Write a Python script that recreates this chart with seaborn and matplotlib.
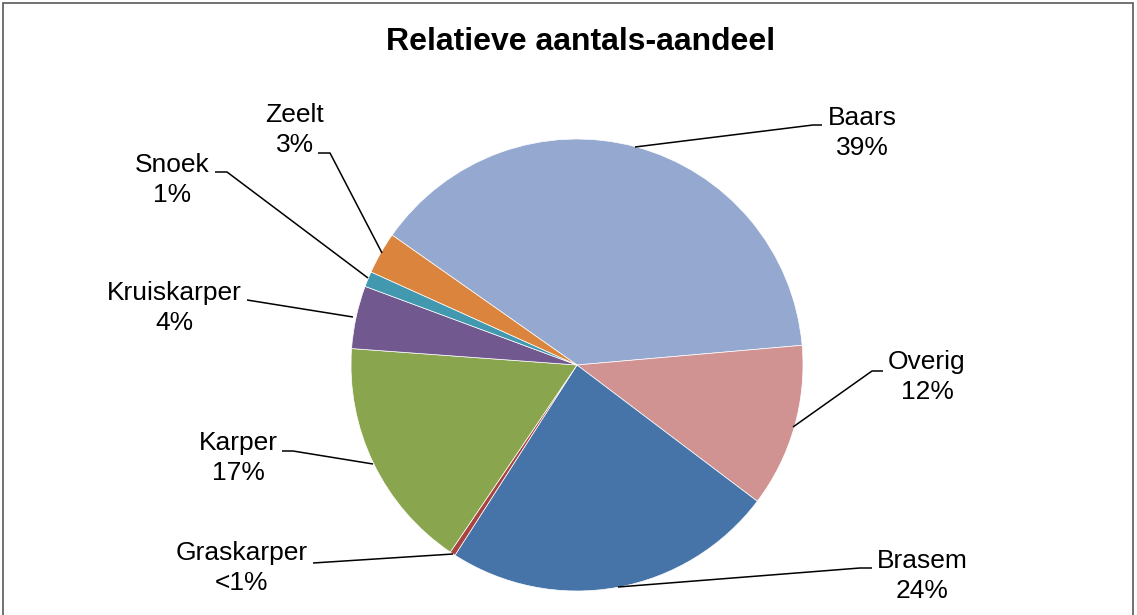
import matplotlib
matplotlib.use("Agg")
import matplotlib.pyplot as plt
import seaborn as sns
from matplotlib.patches import Rectangle

sns.set_style("white")
plt.rcParams['font.family'] = ['Liberation Sans', 'DejaVu Sans']

# ---- data ----
categories = ["Baars", "Overig", "Brasem", "Graskarper", "Karper", "Kruiskarper", "Snoek", "Zeelt"]
values = [38.9, 11.7, 23.8, 0.4, 16.7, 4.5, 1.1, 3.0]
pct_labels = ["39%", "12%", "24%", "<1%", "17%", "4%", "1%", "3%"]
colors = ["#95A9D0", "#D19392", "#4674A8", "#A8433F", "#89A54E", "#71588F", "#4198AF", "#DB843D"]
title = "Relatieve aantals-aandeel"

# ---- layout (pixel positions, y from top) ----
W, H = 1137, 615
label_pos = {
    "Baars": (862, 133), "Overig": (927, 377), "Brasem": (922, 576),
    "Graskarper": (242, 568), "Karper": (238, 458), "Kruiskarper": (174, 308),
    "Snoek": (172, 180), "Zeelt": (295, 130),
}
leaders = {
    "Baars": [(635, 147), (813, 125), (822, 125)],
    "Overig": [(793, 427), (872, 371), (883, 371)],
    "Brasem": [(618, 587), (860, 568), (872, 568)],
    "Graskarper": [(453, 554), (313, 563)],
    "Karper": [(373, 464), (293, 451), (282, 451)],
    "Kruiskarper": [(353, 317), (247, 300)],
    "Snoek": [(368, 278), (227, 172), (215, 172)],
    "Zeelt": [(382, 253), (330, 153), (318, 153)],
}

fig = plt.figure(figsize=(W / 100, H / 100), dpi=100)
ax = fig.add_axes([0, 0, 1, 1])

cx, cy, r = 577, H - 365, 226
ax.pie(values, colors=colors, startangle=144.9, counterclock=False,
       center=(cx, cy), radius=r,
       wedgeprops=dict(linewidth=0.5, edgecolor="white"))

for cat, pct in zip(categories, pct_labels):
    pts = leaders[cat]
    ax.plot([p[0] for p in pts], [H - p[1] for p in pts], color="black", lw=1.1,
            solid_capstyle="butt")
    x, y = label_pos[cat]
    ax.text(x, H - y, f"{cat}\n{pct}", ha="center", va="center",
            multialignment="center", fontsize=19, linespacing=1.34, color="black")

ax.text(581, H - 42, title, ha="center", va="center", fontsize=23,
        fontweight="bold", color="black")

ax.set_xlim(0, W)
ax.set_ylim(0, H)
ax.set_aspect("equal")
ax.axis("off")

fig.patches.append(Rectangle((3 / W, -0.1), (1133 - 3) / W, (H - 3) / H + 0.1,
                             transform=fig.transFigure, fill=False,
                             edgecolor="#595959", linewidth=1.2))

fig.savefig("out.png", dpi=100, facecolor="white")
